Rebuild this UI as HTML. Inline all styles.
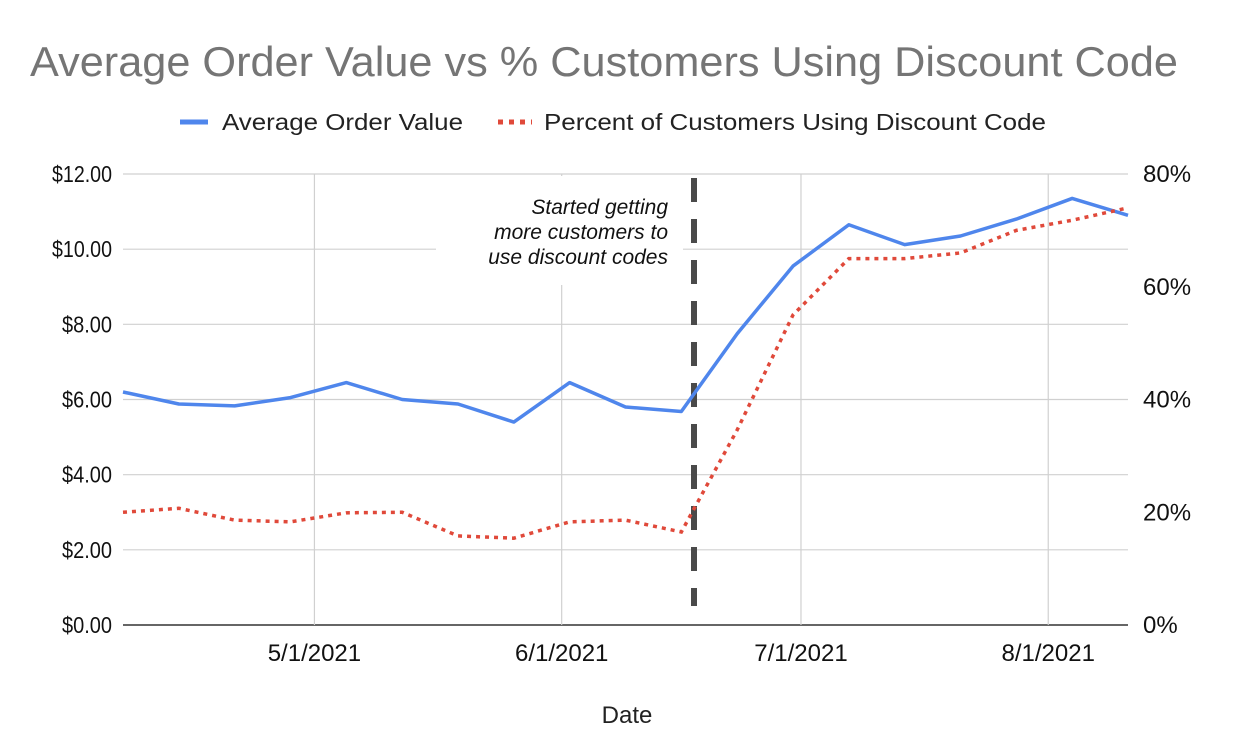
<!DOCTYPE html>
<html><head><meta charset="utf-8"><style>
html,body{margin:0;padding:0;background:#fff;}
svg{display:block;font-family:"Liberation Sans",Arial,sans-serif;}
</style></head><body>
<svg id="chart" width="1258" height="752">
<text x="30" y="76" font-size="42" fill="#757575" textLength="1148" lengthAdjust="spacingAndGlyphs">Average Order Value vs % Customers Using Discount Code</text>
<g>
<line x1="180" y1="122" x2="208" y2="122" stroke="#4f86ec" stroke-width="5"/>
<text x="222" y="130" font-size="23" fill="#222" textLength="241" lengthAdjust="spacingAndGlyphs">Average Order Value</text>
<line x1="498" y1="122" x2="532" y2="122" stroke="#e0493a" stroke-width="5" stroke-dasharray="5,6"/>
<text x="544" y="130" font-size="23" fill="#222" textLength="502" lengthAdjust="spacingAndGlyphs">Percent of Customers Using Discount Code</text>
</g>
<g id="grid"></g>
<g id="axes"></g>
<rect x="436" y="176" width="247" height="109" fill="#fff"/>
<g font-style="italic" font-size="21" fill="#111" text-anchor="end">
<text x="668" y="214">Started getting</text>
<text x="668" y="239">more customers to</text>
<text x="668" y="264">use discount codes</text>
</g>
<line x1="694" y1="178" x2="694" y2="606" stroke="#4a4a4a" stroke-width="6" stroke-dasharray="24,17"/>
<g id="series"></g>
<text x="627" y="723" text-anchor="middle" font-size="24" fill="#222">Date</text>
</svg>
<script>
const dates=["2021-04-07","2021-04-14","2021-04-21","2021-04-28","2021-05-05","2021-05-12","2021-05-19","2021-05-26","2021-06-02","2021-06-09","2021-06-16","2021-06-23","2021-06-30","2021-07-07","2021-07-14","2021-07-21","2021-07-28","2021-08-04","2021-08-11"];
const aov=[6.2,5.88,5.83,6.05,6.45,6.0,5.88,5.4,6.45,5.8,5.68,7.75,9.55,10.65,10.12,10.35,10.8,11.35,10.9];
const pct=[20,20.7,18.6,18.3,19.9,20,15.8,15.4,18.3,18.6,16.5,34.6,55,65,65,66,70,71.8,74];
const leftTicks=[0,2,4,6,8,10,12];
const leftLabels=["$0.00","$2.00","$4.00","$6.00","$8.00","$10.00","$12.00"];
const rightTicks=[0,20,40,60,80];
const rightLabels=["0%","20%","40%","60%","80%"];
const xTicks=["2021-05-01","2021-06-01","2021-07-01","2021-08-01"];
const xLabels=["5/1/2021","6/1/2021","7/1/2021","8/1/2021"];

const NS="http://www.w3.org/2000/svg";
const L=123,R=1128,T=174,B=625;
const d0=Date.parse(dates[0]),d1=Date.parse(dates[dates.length-1]);
const x=d=>L+(Date.parse(d)-d0)/(d1-d0)*(R-L);
const yL=v=>B-v/12*(B-T);
const yR=v=>B-v/80*(B-T);
function mk(tag,attrs,parent){const e=document.createElementNS(NS,tag);for(const k in attrs)e.setAttribute(k,attrs[k]);parent.appendChild(e);return e;}
const grid=document.getElementById('grid'),axes=document.getElementById('axes'),series=document.getElementById('series');
leftTicks.forEach((v,i)=>{
 const g=mk('line',{x1:L,x2:R,y1:yL(v),y2:yL(v),stroke:v===0?'#333':'#d0d0d0','stroke-width':v===0?1.5:1.2},grid);
 
 
 const t=mk('text',{x:112,y:yL(v)+8,'text-anchor':'end','font-size':23,fill:'#111',textLength:leftLabels[i].length*10,lengthAdjust:'spacingAndGlyphs'},axes);
 t.textContent=leftLabels[i];
 
 
});
rightTicks.forEach((v,i)=>{
 const t=mk('text',{x:1143,y:yR(v)+8,'font-size':24,fill:'#111'},axes);
 t.textContent=rightLabels[i];
 
 
});
xTicks.forEach((d,i)=>{
 const g=mk('line',{x1:x(d),x2:x(d),y1:T,y2:B,stroke:'#d0d0d0','stroke-width':1.2},grid);
 
 
 const t=mk('text',{x:x(d),y:661,'text-anchor':'middle','font-size':24,fill:'#111'},axes);
 t.textContent=xLabels[i];
 
 
});
const p1=mk('polyline',{points:dates.map((d,i)=>x(d)+','+yL(aov[i])).join(' '),fill:'none',stroke:'#4f86ec','stroke-width':3.5,'stroke-linejoin':'round'},series);


const p2=mk('polyline',{points:dates.map((d,i)=>x(d)+','+yR(pct[i])).join(' '),fill:'none',stroke:'#e0493a','stroke-width':3.5,'stroke-dasharray':'4,5'},series);


</script>
</body></html>
